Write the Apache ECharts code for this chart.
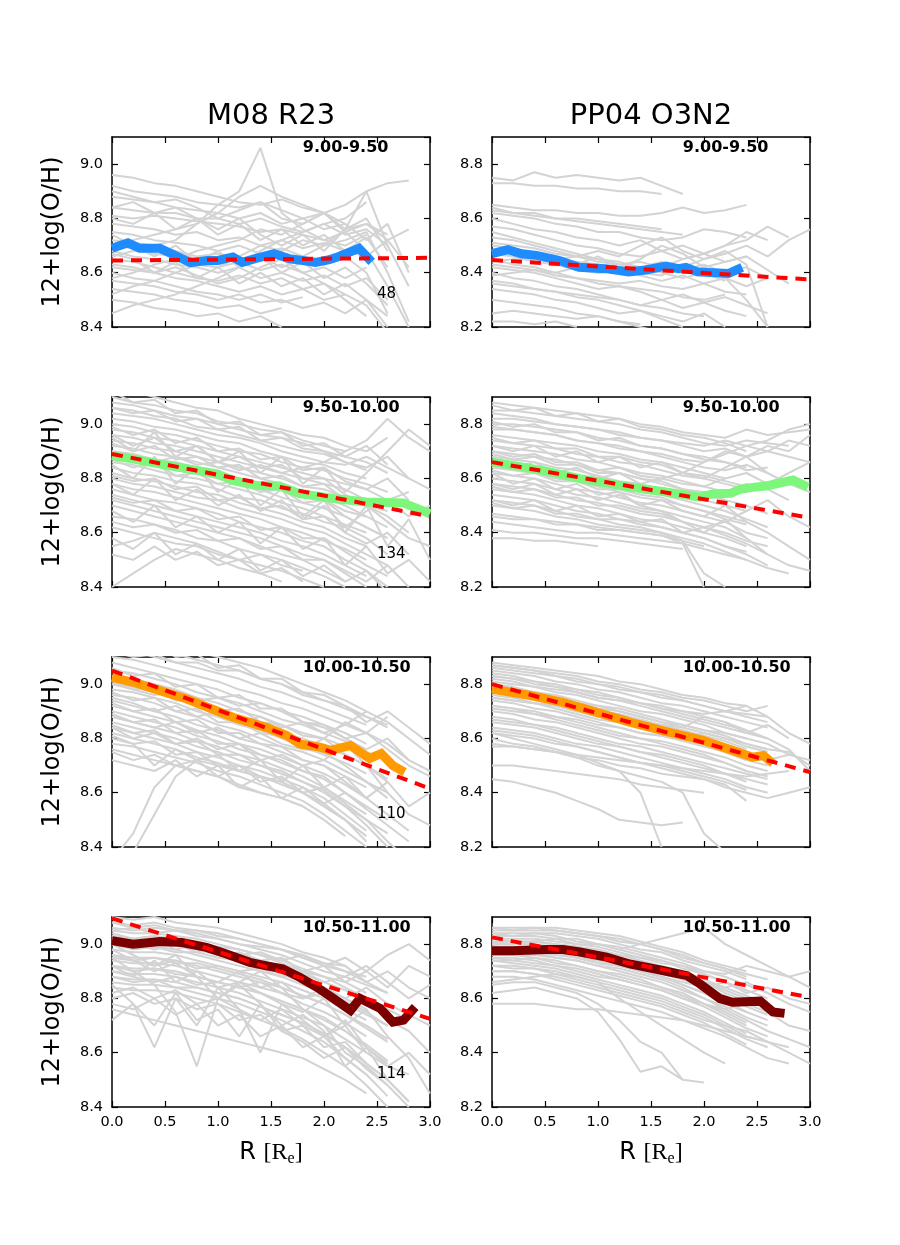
<!DOCTYPE html>
<html><head><meta charset="utf-8">
<script src="https://cdn.jsdelivr.net/npm/echarts/dist/echarts.min.js"></script>
<style>html,body{margin:0;padding:0;background:#fff}#c{width:900px;height:1245px}</style>
</head><body><div id="c"></div><script>
// ---------- data ----------
const radii = [0,0.2,0.4,0.6,0.8,1.0,1.2,1.4,1.6,1.8,2.0,2.2,2.4,2.6,2.8,3.0];
const xTicks = [0, 3, 0.5];
const yRangeM08 = [8.4, 9.1];
const yRangePP04 = [8.2, 8.9];
const columnTitles = ['M08 R23', 'PP04 O3N2'];
const massBins = ['9.00-9.50', '9.50-10.00', '10.00-10.50', '10.50-11.00'];
const galaxyCounts = ['48', '134', '110', '114'];

const grayM08_1 = [
[8.96,8.95,8.93,8.92,8.90,8.88,8.86,8.85,8.87,8.84,8.82],
[8.92,8.90,8.89,8.88,8.86,8.85,8.84,8.86,8.83,8.80,8.82,8.85,8.90,8.93,8.94],
[8.88,8.87,8.86,8.84,8.83,8.82,8.80,8.82,8.78,8.80,8.76,8.78],
[8.84,8.83,8.82,8.82,8.80,8.80,8.78,8.80,8.77,8.75,8.78,8.74,8.76,8.70],
[8.81,8.80,8.81,8.80,8.79,8.78,8.77,8.75,8.76,8.74,8.72,8.75,8.78,8.72,8.76],
[8.78,8.77,8.76,8.74,8.75,8.72,8.73,8.70,8.72,8.69,8.71,8.68,8.73,8.62],
[8.75,8.74,8.72,8.71,8.70,8.68,8.70,8.67,8.69,8.66,8.70,8.72,8.75,8.60,8.42],
[8.72,8.71,8.70,8.68,8.66,8.67,8.64,8.66,8.62,8.65,8.63,8.66,8.60,8.45],
[8.70,8.69,8.67,8.66,8.63,8.62,8.64,8.61,8.63,8.60,8.62,8.58,8.62],
[8.68,8.66,8.65,8.63,8.62,8.60,8.62,8.58,8.60,8.57,8.59,8.55,8.58,8.50],
[8.65,8.64,8.62,8.60,8.58,8.57,8.59,8.56,8.58,8.54,8.56,8.52,8.48,8.38],
[8.62,8.61,8.60,8.58,8.57,8.55,8.53,8.55,8.52,8.54,8.50,8.52],
[8.60,8.58,8.57,8.55,8.53,8.52,8.50,8.52,8.49,8.51],
[8.57,8.56,8.55,8.53,8.52,8.50,8.52,8.49,8.50,8.47,8.49,8.45,8.50,8.40],
[8.54,8.53,8.52,8.50,8.49,8.47,8.48,8.45,8.47],
[8.50,8.49,8.47,8.46,8.44,8.45,8.42,8.44,8.40],
[8.45,8.48,8.50,8.52,8.55,8.58,8.62,8.68,8.72,8.75,8.78,8.80,8.86],
[8.66,8.68,8.70,8.72,8.78,8.85,8.90,9.06,8.82,8.76,8.72,8.70,8.74],
[8.90,8.88,8.86,8.87,8.84,8.80,8.83,8.86,8.80,8.78,8.82,8.75,8.68,8.55,8.40],
[8.70,8.72,8.74,8.76,8.78,8.82,8.88,8.92,8.88,8.85,8.82,8.78,8.72,8.78,8.60],
[8.58,8.60,8.63,8.65,8.68,8.70,8.72,8.76,8.74,8.78,8.82,8.76,8.90,8.70,8.55],
[8.52,8.55,8.57,8.60,8.63,8.62,8.66,8.70,8.68,8.72,8.70,8.76,8.78,8.74],
[8.63,8.62,8.60,8.62,8.59,8.56,8.58,8.62,8.65,8.60,8.56,8.50,8.44],
[8.80,8.78,8.82,8.76,8.80,8.74,8.78,8.72,8.76,8.70,8.74,8.68,8.66,8.72,8.62],
[8.74,8.70,8.66,8.70,8.64,8.68,8.62,8.66,8.60,8.64,8.58,8.62,8.56,8.48],
[8.67,8.65,8.60,8.64,8.58,8.62,8.56,8.60,8.55,8.58,8.52,8.56,8.50,8.44],
[8.84,8.86,8.82,8.84,8.80,8.76,8.80,8.74,8.70,8.74,8.68,8.76,8.80,8.68]
];
const grayPP04_1 = [
[8.75,8.74,8.77,8.75,8.76,8.75,8.74,8.75,8.72,8.69],
[8.73,8.73,8.72,8.72,8.71,8.71,8.70,8.70,8.69],
[8.65,8.64,8.63,8.63,8.62,8.62,8.61,8.61,8.62,8.64,8.62,8.63,8.65],
[8.64,8.62,8.62,8.60,8.60,8.59,8.58,8.57,8.56],
[8.62,8.61,8.60,8.58,8.57,8.55,8.55,8.53,8.52,8.53,8.56,8.55,8.53],
[8.60,8.58,8.56,8.55,8.53,8.52,8.50,8.52,8.48,8.50,8.47,8.50,8.55,8.52],
[8.57,8.56,8.54,8.52,8.50,8.49,8.47,8.46,8.48,8.45,8.47,8.44,8.46],
[8.55,8.53,8.51,8.49,8.47,8.45,8.44,8.42,8.44,8.41,8.43,8.40,8.42,8.38],
[8.53,8.52,8.50,8.48,8.46,8.45,8.43,8.44,8.42,8.45,8.47,8.50,8.52,8.57,8.53],
[8.50,8.49,8.47,8.45,8.44,8.43,8.41,8.42,8.40,8.38,8.40,8.37],
[8.47,8.46,8.44,8.43,8.41,8.40,8.41,8.39,8.37,8.39,8.36,8.38,8.35,8.38],
[8.45,8.43,8.42,8.40,8.38,8.37,8.36,8.37,8.35,8.34,8.36,8.33,8.32],
[8.42,8.41,8.40,8.38,8.36,8.34,8.35,8.33,8.30,8.32,8.29,8.31,8.28,8.25],
[8.40,8.38,8.37,8.35,8.34,8.32,8.30,8.28,8.30,8.27,8.29,8.26,8.24],
[8.37,8.36,8.34,8.33,8.31,8.30,8.28,8.26,8.24,8.22,8.25,8.20],
[8.34,8.33,8.32,8.30,8.29,8.27,8.25,8.26,8.23,8.20],
[8.30,8.29,8.28,8.27,8.25,8.24,8.22,8.20,8.18],
[8.25,8.26,8.25,8.24,8.23,8.24,8.22,8.21],
[8.22,8.22,8.21,8.22,8.20],
[8.48,8.47,8.46,8.45,8.46,8.48,8.46,8.50,8.53,8.48,8.45,8.47,8.50,8.46,8.52,8.56],
[8.44,8.45,8.45,8.44,8.43,8.46,8.42,8.45,8.50,8.47,8.42,8.38,8.30,8.20],
[8.39,8.40,8.41,8.40,8.42,8.40,8.41,8.40,8.39,8.42,8.45,8.48,8.43,8.20],
[8.63,8.62,8.61,8.60,8.59,8.58,8.57,8.56,8.55,8.54],
[8.51,8.50,8.49,8.47,8.46,8.44,8.43,8.42,8.41,8.40,8.42,8.44,8.46,8.41,8.36],
[8.43,8.42,8.41,8.39,8.38,8.36,8.35,8.34,8.33,8.31,8.30,8.32],
[8.36,8.35,8.34,8.33,8.32,8.31,8.30,8.28,8.27,8.25,8.24]
];
const grayM08_2 = [
[9.15,9.12,9.10,9.08,9.06,9.05,9.02,9.00,8.98,8.96,8.95,8.92,8.90,8.95],
[9.10,9.08,9.07,9.05,9.04,9.01,9.00,8.98,8.97,8.94,8.92,8.90],
[9.08,9.07,9.05,9.03,9.02,9.00,8.98,8.96,8.95,8.93,8.90,8.88,8.92,8.85],
[9.06,9.05,9.03,9.02,8.99,8.98,8.96,8.94,8.92,8.90,8.89,8.86,8.83],
[9.04,9.03,9.02,9.00,8.98,8.96,8.95,8.93,8.90,8.88,8.86,8.85,8.88,8.84,8.80],
[9.02,9.01,8.99,8.98,8.96,8.94,8.93,8.90,8.88,8.86,8.85,8.82,8.80],
[9.00,8.99,8.97,8.96,8.94,8.92,8.90,8.89,8.86,8.84,8.83,8.80,8.78,8.75],
[8.98,8.97,8.95,8.94,8.92,8.90,8.88,8.86,8.84,8.82,8.80,8.78,8.76,8.72,8.75],
[8.96,8.95,8.93,8.92,8.90,8.88,8.86,8.84,8.82,8.80,8.78,8.76,8.72,8.70],
[8.94,8.93,8.91,8.90,8.88,8.86,8.84,8.82,8.80,8.77,8.76,8.73,8.70,8.68],
[8.92,8.91,8.89,8.88,8.86,8.84,8.82,8.80,8.78,8.75,8.73,8.70,8.66,8.62],
[8.90,8.89,8.87,8.86,8.84,8.82,8.80,8.78,8.76,8.74,8.72,8.68,8.66],
[8.88,8.87,8.85,8.83,8.82,8.80,8.78,8.76,8.73,8.71,8.69,8.66,8.62,8.58],
[8.86,8.85,8.83,8.81,8.80,8.78,8.76,8.74,8.71,8.69,8.66,8.63,8.60],
[8.84,8.82,8.81,8.79,8.78,8.76,8.73,8.72,8.69,8.67,8.64,8.62,8.58,8.52],
[8.82,8.80,8.79,8.77,8.75,8.74,8.71,8.69,8.67,8.64,8.62,8.58,8.55],
[8.80,8.78,8.77,8.75,8.73,8.72,8.69,8.67,8.65,8.62,8.60,8.56,8.52,8.48],
[8.78,8.76,8.75,8.73,8.71,8.69,8.67,8.65,8.62,8.60,8.57,8.54,8.50],
[8.76,8.74,8.72,8.71,8.69,8.67,8.64,8.62,8.60,8.57,8.55,8.50,8.46,8.40],
[8.74,8.72,8.70,8.68,8.66,8.64,8.62,8.60,8.57,8.55,8.52,8.48,8.44],
[8.72,8.70,8.68,8.66,8.64,8.62,8.60,8.58,8.55,8.52,8.50,8.45,8.40],
[8.70,8.68,8.66,8.64,8.62,8.60,8.58,8.55,8.52,8.50,8.46,8.42],
[8.66,8.65,8.63,8.61,8.58,8.57,8.54,8.52,8.50,8.47,8.44,8.40],
[8.62,8.60,8.58,8.56,8.55,8.52,8.50,8.48,8.46,8.43,8.40],
[8.55,8.57,8.60,8.58,8.56,8.53,8.50,8.52,8.48,8.46],
[8.40,8.45,8.50,8.54,8.52,8.50,8.47,8.45,8.42],
[8.85,8.80,8.88,8.78,8.84,8.75,8.80,8.70,8.76,8.66,8.72,8.60,8.70,8.55,8.65,8.50],
[8.95,8.90,8.97,8.88,8.92,8.86,8.90,8.82,8.88,8.78,8.84,8.75,8.82,8.90,8.98,8.92],
[8.90,8.88,8.86,8.88,8.85,8.86,8.83,8.85,8.82,8.84,8.86,8.90,8.94,9.02,8.95,8.90],
[8.78,8.74,8.80,8.72,8.76,8.70,8.74,8.68,8.72,8.65,8.70,8.62,8.68,8.72,8.66,8.70],
[8.68,8.64,8.70,8.62,8.66,8.60,8.64,8.56,8.62,8.54,8.58,8.48,8.55,8.45,8.50,8.42],
[8.58,8.54,8.60,8.52,8.56,8.50,8.54,8.46,8.50,8.44,8.48,8.42,8.46,8.38],
[9.12,9.08,9.09,9.04,9.05,9.00,9.01,8.96,8.97,8.92,8.93,8.88,8.86,8.82],
[8.99,8.96,8.98,8.93,8.95,8.90,8.91,8.87,8.88,8.83,8.84,8.79,8.76,8.80,8.72],
[8.93,8.90,8.92,8.87,8.88,8.84,8.85,8.80,8.81,8.77,8.78,8.72,8.70,8.66,8.60],
[8.87,8.84,8.86,8.81,8.82,8.78,8.79,8.75,8.76,8.71,8.72,8.66,8.62,8.58],
[8.81,8.79,8.80,8.76,8.77,8.72,8.73,8.69,8.70,8.65,8.66,8.60,8.56,8.60,8.52],
[8.73,8.71,8.72,8.68,8.69,8.65,8.66,8.61,8.62,8.58,8.58,8.53,8.48,8.44],
[8.64,8.62,8.63,8.60,8.61,8.57,8.58,8.54,8.55,8.50,8.50,8.46,8.42,8.48,8.40],
[8.52,8.50,8.55,8.50,8.53,8.48,8.50,8.45,8.47,8.42],
[9.06,9.04,9.05,9.01,9.02,8.98,8.99,8.94,8.95,8.91,8.90,8.86,8.84,8.88,8.80,8.76],
[8.96,8.92,8.95,8.90,8.92,8.86,8.88,8.84,8.85,8.80,8.80,8.74,8.70,8.64,8.58,8.55]
];
const grayPP04_2 = [
[8.88,8.87,8.86,8.85,8.84,8.83,8.82,8.80,8.79,8.77,8.76,8.75,8.78,8.76,8.77,8.78],
[8.85,8.85,8.84,8.83,8.82,8.81,8.80,8.78,8.77,8.75,8.73,8.72,8.74,8.73,8.72],
[8.82,8.82,8.81,8.80,8.79,8.78,8.76,8.75,8.74,8.72,8.70,8.71,8.68,8.70,8.74,8.72],
[8.80,8.80,8.79,8.78,8.77,8.75,8.74,8.72,8.71,8.69,8.67,8.66,8.64],
[8.78,8.78,8.77,8.76,8.74,8.73,8.71,8.70,8.68,8.66,8.64,8.63,8.65,8.62],
[8.76,8.75,8.74,8.73,8.72,8.70,8.69,8.67,8.66,8.64,8.62,8.60],
[8.74,8.73,8.72,8.71,8.69,8.68,8.66,8.65,8.63,8.61,8.60,8.58,8.56],
[8.72,8.71,8.70,8.69,8.67,8.66,8.64,8.62,8.61,8.59,8.57,8.55,8.58,8.56,8.52],
[8.70,8.69,8.68,8.67,8.65,8.63,8.62,8.60,8.58,8.56,8.54,8.52],
[8.68,8.67,8.66,8.64,8.63,8.61,8.59,8.58,8.56,8.54,8.52,8.50,8.48],
[8.66,8.65,8.64,8.62,8.61,8.59,8.57,8.55,8.54,8.52,8.50,8.48,8.45,8.42],
[8.64,8.63,8.62,8.60,8.59,8.57,8.55,8.53,8.52,8.50,8.48,8.46,8.44],
[8.62,8.61,8.60,8.58,8.56,8.55,8.53,8.51,8.50,8.48,8.46,8.44,8.40,8.38],
[8.60,8.59,8.58,8.56,8.54,8.53,8.51,8.49,8.48,8.46,8.44,8.42,8.38],
[8.58,8.57,8.56,8.54,8.52,8.51,8.49,8.47,8.46,8.44,8.42,8.40,8.37,8.35],
[8.56,8.55,8.54,8.52,8.50,8.49,8.47,8.45,8.44,8.42,8.40,8.38,8.35],
[8.54,8.53,8.52,8.50,8.48,8.47,8.45,8.44,8.42,8.40,8.38,8.35,8.32,8.28],
[8.52,8.51,8.50,8.48,8.46,8.45,8.43,8.42,8.40,8.38,8.36,8.33,8.30],
[8.50,8.49,8.48,8.46,8.45,8.43,8.42,8.41,8.40,8.37,8.25,8.20],
[8.47,8.46,8.45,8.44,8.43,8.42,8.41,8.40,8.39,8.36,8.20],
[8.44,8.43,8.42,8.41,8.40,8.40,8.39,8.38,8.37,8.36,8.34,8.32,8.30,8.27,8.25],
[8.41,8.40,8.40,8.39,8.38,8.38,8.37,8.36,8.35,8.34],
[8.38,8.38,8.37,8.37,8.36,8.35],
[8.66,8.64,8.66,8.62,8.64,8.60,8.62,8.58,8.60,8.62,8.66,8.70,8.68,8.72,8.70,8.76],
[8.72,8.70,8.72,8.68,8.70,8.66,8.68,8.64,8.66,8.62,8.60,8.64,8.68,8.62,8.58,8.55],
[8.58,8.56,8.58,8.54,8.56,8.52,8.54,8.50,8.52,8.48,8.46,8.50,8.44,8.40,8.35,8.30],
[8.62,8.58,8.60,8.56,8.58,8.54,8.55,8.50,8.48,8.44,8.40,8.45,8.38,8.32,8.28,8.26],
[8.52,8.50,8.52,8.48,8.50,8.46,8.47,8.44,8.45,8.40,8.42,8.44,8.48,8.52,8.46,8.42],
[8.84,8.83,8.82,8.80,8.79,8.78,8.77,8.75,8.74,8.73,8.72,8.74,8.72,8.70,8.68,8.66],
[8.87,8.85,8.86,8.83,8.84,8.81,8.82,8.79,8.78,8.76,8.75,8.73,8.70],
[8.81,8.79,8.80,8.77,8.77,8.74,8.75,8.72,8.71,8.69,8.68,8.66,8.63,8.64],
[8.75,8.73,8.74,8.71,8.71,8.68,8.68,8.66,8.65,8.62,8.61,8.59,8.57],
[8.69,8.67,8.68,8.65,8.65,8.62,8.62,8.60,8.59,8.56,8.55,8.52,8.50,8.47],
[8.63,8.61,8.62,8.59,8.59,8.56,8.56,8.54,8.53,8.50,8.48,8.45,8.43],
[8.57,8.55,8.56,8.53,8.53,8.50,8.50,8.48,8.47,8.44,8.42,8.39,8.36,8.32],
[8.51,8.49,8.50,8.47,8.47,8.45,8.45,8.43,8.42,8.40,8.38,8.35,8.33],
[8.46,8.45,8.45,8.43,8.43,8.41,8.41,8.40,8.39,8.37,8.35],
[8.79,8.78,8.77,8.76,8.74,8.73,8.72,8.70,8.69,8.67,8.66,8.69,8.72,8.74,8.78,8.80],
[8.70,8.68,8.69,8.66,8.66,8.63,8.64,8.61,8.60,8.58,8.57,8.60,8.62,8.58,8.62,8.66]
];
const grayM08_3 = [
[9.20,9.18,9.16,9.14,9.12,9.10,9.08,9.06,9.03,9.00,8.97,8.94,8.90],
[9.16,9.15,9.13,9.11,9.09,9.07,9.05,9.02,9.00,8.97,8.94,8.91,8.88,8.85],
[9.13,9.12,9.10,9.08,9.06,9.04,9.02,8.99,8.97,8.94,8.91,8.88,8.85],
[9.10,9.09,9.07,9.05,9.03,9.01,8.98,8.96,8.93,8.91,8.88,8.85,8.82,8.88],
[9.08,9.06,9.04,9.02,9.00,8.98,8.95,8.93,8.90,8.88,8.85,8.82,8.78],
[9.05,9.04,9.02,9.00,8.97,8.95,8.93,8.90,8.87,8.85,8.82,8.79,8.75,8.72],
[9.03,9.02,9.00,8.98,8.95,8.93,8.90,8.88,8.85,8.82,8.80,8.77,8.73],
[9.00,8.99,8.97,8.95,8.93,8.90,8.88,8.85,8.82,8.80,8.77,8.74,8.70,8.65],
[8.98,8.97,8.95,8.93,8.90,8.88,8.85,8.83,8.80,8.77,8.74,8.71,8.67],
[8.96,8.95,8.93,8.90,8.88,8.85,8.83,8.80,8.77,8.75,8.72,8.68,8.64,8.60],
[8.94,8.92,8.90,8.88,8.85,8.83,8.80,8.78,8.75,8.72,8.70,8.66,8.62],
[8.92,8.90,8.88,8.86,8.83,8.81,8.78,8.76,8.73,8.70,8.67,8.63,8.58],
[8.90,8.88,8.86,8.84,8.81,8.79,8.76,8.74,8.71,8.68,8.65,8.60,8.55,8.50],
[8.88,8.86,8.84,8.82,8.79,8.77,8.74,8.72,8.69,8.66,8.62,8.57,8.52],
[8.86,8.84,8.82,8.80,8.77,8.75,8.72,8.70,8.67,8.64,8.60,8.55,8.50,8.45],
[8.84,8.82,8.80,8.78,8.75,8.73,8.70,8.68,8.65,8.62,8.58,8.52,8.46],
[8.82,8.80,8.78,8.76,8.73,8.71,8.68,8.66,8.63,8.60,8.55,8.50,8.42],
[8.78,8.77,8.75,8.73,8.71,8.68,8.66,8.63,8.60,8.57,8.52,8.46,8.40],
[8.76,8.74,8.72,8.70,8.68,8.66,8.63,8.60,8.58,8.55,8.50,8.44],
[8.80,8.78,8.70,8.76,8.72,8.74,8.68,8.72,8.64,8.70,8.62,8.66,8.58,8.64,8.55,8.60],
[8.72,8.70,8.68,8.72,8.66,8.70,8.62,8.66,8.58,8.62,8.56,8.60,8.54,8.48,8.42],
[8.30,8.38,8.52,8.66,8.72,8.70,8.68,8.66,8.64,8.60,8.55,8.50],
[8.35,8.45,8.62,8.70,8.68,8.66,8.62,8.60,8.58,8.55],
[8.95,8.93,8.90,8.92,8.88,8.90,8.86,8.88,8.84,8.86,8.82,8.85,8.90,8.86,8.80,8.74],
[8.88,8.86,8.84,8.86,8.82,8.84,8.80,8.82,8.78,8.76,8.80,8.86,8.82,8.78,8.72,8.68],
[8.84,8.80,8.82,8.78,8.80,8.76,8.78,8.72,8.74,8.70,8.72,8.78,8.70,8.60,8.52,8.48],
[8.75,8.72,8.74,8.70,8.72,8.66,8.70,8.64,8.66,8.60,8.62,8.56,8.50,8.42,8.35],
[9.00,8.98,8.96,8.97,8.94,8.95,8.92,8.93,8.90,8.86,8.84,8.80,8.82,8.76,8.70,8.66],
[9.18,9.14,9.15,9.10,9.11,9.06,9.07,9.02,9.02,8.97,8.96,8.92,8.88,8.84],
[9.06,9.03,9.04,8.99,9.00,8.95,8.96,8.91,8.91,8.86,8.85,8.80,8.76,8.80,8.72],
[9.01,8.98,8.99,8.94,8.95,8.90,8.91,8.86,8.85,8.81,8.80,8.74,8.70,8.64],
[8.97,8.94,8.95,8.90,8.91,8.86,8.86,8.82,8.81,8.76,8.75,8.70,8.64,8.58],
[8.93,8.90,8.91,8.86,8.87,8.82,8.82,8.78,8.77,8.72,8.70,8.64,8.58,8.52,8.46],
[8.89,8.86,8.87,8.82,8.83,8.78,8.78,8.74,8.72,8.68,8.66,8.60,8.54],
[8.85,8.82,8.83,8.78,8.79,8.74,8.74,8.70,8.68,8.64,8.61,8.55,8.48,8.40],
[8.81,8.78,8.79,8.74,8.75,8.70,8.70,8.66,8.64,8.60,8.56,8.50,8.44],
[9.12,9.10,9.11,9.08,9.08,9.05,9.05,9.02,9.00,8.96,8.94,8.92,8.86,8.90,8.84,8.78]
];
const grayPP04_3 = [
[8.88,8.87,8.86,8.85,8.84,8.83,8.81,8.80,8.78,8.76,8.75,8.73,8.72],
[8.87,8.86,8.85,8.84,8.83,8.81,8.80,8.78,8.77,8.75,8.74,8.72,8.70,8.72],
[8.86,8.85,8.84,8.83,8.81,8.80,8.78,8.77,8.75,8.74,8.72,8.70,8.68,8.66],
[8.85,8.84,8.83,8.81,8.80,8.78,8.77,8.75,8.73,8.72,8.70,8.68,8.66,8.64],
[8.84,8.83,8.81,8.80,8.78,8.77,8.75,8.73,8.72,8.70,8.68,8.66,8.63],
[8.83,8.82,8.80,8.79,8.77,8.75,8.74,8.72,8.70,8.68,8.66,8.64,8.62,8.65,8.60],
[8.82,8.81,8.79,8.77,8.76,8.74,8.72,8.70,8.69,8.67,8.65,8.62,8.60],
[8.80,8.79,8.77,8.76,8.74,8.72,8.71,8.69,8.67,8.65,8.63,8.61,8.58,8.56],
[8.78,8.77,8.75,8.74,8.72,8.70,8.69,8.67,8.65,8.63,8.61,8.59,8.56],
[8.76,8.75,8.73,8.72,8.70,8.68,8.67,8.65,8.63,8.61,8.59,8.57,8.54,8.52,8.54],
[8.74,8.73,8.71,8.70,8.68,8.66,8.64,8.62,8.61,8.59,8.57,8.55,8.52],
[8.72,8.71,8.69,8.68,8.66,8.64,8.62,8.60,8.59,8.57,8.55,8.53,8.50,8.48],
[8.70,8.69,8.67,8.66,8.64,8.62,8.60,8.58,8.57,8.55,8.53,8.51,8.48],
[8.68,8.67,8.65,8.64,8.62,8.60,8.58,8.57,8.55,8.53,8.51,8.49,8.47,8.45],
[8.66,8.65,8.64,8.62,8.60,8.58,8.57,8.55,8.53,8.51,8.49,8.47,8.44],
[8.64,8.63,8.62,8.60,8.58,8.57,8.55,8.53,8.51,8.49,8.47,8.45,8.42,8.40],
[8.62,8.61,8.60,8.58,8.57,8.55,8.53,8.51,8.49,8.47,8.45,8.43,8.37],
[8.57,8.57,8.56,8.55,8.54,8.53,8.52,8.51,8.50,8.49,8.48,8.47,8.46,8.47,8.48],
[8.50,8.50,8.49,8.48,8.47,8.46,8.45,8.43,8.42,8.41,8.40],
[8.45,8.44,8.42,8.40,8.37,8.34,8.30,8.29,8.28,8.29],
[8.62,8.60,8.58,8.56,8.54,8.51,8.48,8.40,8.20],
[8.60,8.58,8.57,8.55,8.53,8.50,8.48,8.46,8.44,8.40,8.25,8.18],
[8.78,8.77,8.76,8.74,8.73,8.71,8.70,8.68,8.66,8.65,8.63,8.62,8.60,8.58,8.54,8.52],
[8.72,8.71,8.70,8.68,8.67,8.65,8.64,8.62,8.61,8.60,8.62,8.60,8.58,8.56,8.55,8.50],
[8.75,8.74,8.73,8.72,8.70,8.69,8.68,8.66,8.65,8.64,8.68,8.66,8.62,8.60,8.56,8.48],
[8.58,8.57,8.56,8.55,8.53,8.52,8.50,8.49,8.47,8.46,8.45,8.42,8.40,8.38,8.40,8.42],
[8.87,8.86,8.85,8.83,8.82,8.80,8.79,8.77,8.76,8.74,8.72,8.70,8.69,8.68],
[8.83,8.82,8.81,8.79,8.78,8.76,8.75,8.73,8.71,8.69,8.67,8.65,8.63,8.60],
[8.79,8.78,8.77,8.75,8.73,8.72,8.70,8.68,8.66,8.64,8.62,8.60,8.57,8.55],
[8.75,8.74,8.73,8.71,8.69,8.67,8.66,8.64,8.62,8.60,8.58,8.55,8.52,8.50],
[8.71,8.70,8.69,8.67,8.65,8.63,8.61,8.60,8.58,8.56,8.54,8.51,8.48,8.46],
[8.67,8.66,8.65,8.63,8.61,8.59,8.57,8.55,8.54,8.52,8.50,8.47,8.45,8.43],
[8.63,8.62,8.61,8.59,8.57,8.55,8.53,8.51,8.50,8.48,8.46,8.44,8.41],
[8.81,8.80,8.79,8.78,8.77,8.75,8.74,8.73,8.71,8.70,8.69,8.70,8.72,8.68,8.62,8.58]
];
const grayM08_4 = [
[9.10,9.09,9.10,9.08,9.07,9.06,9.04,9.02,9.00,8.97,8.95,8.92],
[9.08,9.07,9.08,9.06,9.05,9.04,9.02,9.00,8.98,8.95,8.92,8.90,8.88],
[9.06,9.05,9.06,9.05,9.04,9.02,9.00,8.98,8.96,8.93,8.90,8.88,8.85,8.82],
[9.05,9.04,9.04,9.03,9.02,9.00,8.98,8.96,8.94,8.91,8.88,8.86,8.82],
[9.03,9.02,9.03,9.02,9.00,8.98,8.96,8.94,8.92,8.89,8.86,8.83,8.80,8.76],
[9.01,9.00,9.01,9.00,8.98,8.96,8.94,8.92,8.90,8.87,8.84,8.80,8.76],
[9.00,8.99,8.99,8.98,8.96,8.94,8.92,8.90,8.88,8.85,8.82,8.78,8.74,8.70],
[8.98,8.97,8.97,8.96,8.94,8.92,8.90,8.88,8.86,8.83,8.80,8.76,8.72],
[8.96,8.95,8.95,8.94,8.92,8.90,8.88,8.86,8.84,8.81,8.78,8.74,8.70,8.65],
[8.94,8.93,8.93,8.92,8.90,8.88,8.86,8.84,8.82,8.78,8.75,8.71,8.66],
[8.92,8.91,8.91,8.90,8.88,8.86,8.84,8.82,8.79,8.76,8.72,8.68,8.62,8.56],
[8.90,8.89,8.89,8.88,8.86,8.84,8.82,8.79,8.76,8.73,8.70,8.65,8.60],
[8.88,8.87,8.87,8.86,8.84,8.82,8.80,8.77,8.74,8.71,8.67,8.62,8.56,8.50],
[8.86,8.85,8.85,8.84,8.82,8.80,8.78,8.75,8.72,8.68,8.64,8.58,8.52],
[8.84,8.83,8.83,8.82,8.80,8.78,8.75,8.72,8.69,8.65,8.60,8.55,8.48,8.40],
[8.80,8.82,8.78,8.80,8.76,8.78,8.72,8.74,8.68,8.70,8.62,8.64,8.56,8.50,8.42],
[8.78,8.76,8.80,8.74,8.78,8.70,8.74,8.66,8.70,8.62,8.66,8.58,8.52,8.44],
[8.72,8.78,8.70,8.82,8.72,8.76,8.66,8.78,8.68,8.64,8.58,8.62,8.54,8.48],
[8.85,8.78,8.62,8.80,8.70,8.84,8.76,8.60,8.78,8.72,8.66,8.70,8.60,8.55,8.52],
[8.95,8.90,8.85,8.75,8.55,8.80,8.85,8.78,8.70,8.74,8.68,8.55,8.62,8.50,8.42],
[9.00,8.96,8.92,8.96,8.88,8.80,8.86,8.90,8.84,8.76,8.70,8.60,8.55,8.48,8.40],
[9.02,9.00,8.98,9.00,8.97,8.98,8.96,8.97,8.94,8.96,8.92,8.95,8.90,8.96,9.00,8.94],
[8.95,8.94,8.92,8.94,8.91,8.92,8.90,8.91,8.88,8.90,8.86,8.88,8.92,8.86,8.80,8.85],
[8.90,8.88,8.86,8.88,8.85,8.86,8.84,8.86,8.82,8.80,8.84,8.80,8.84,8.78,8.74,8.70],
[8.82,8.84,8.80,8.83,8.78,8.80,8.76,8.72,8.76,8.70,8.66,8.72,8.62,8.55,8.60,8.52],
[8.92,8.88,8.94,8.86,8.90,8.84,8.86,8.82,8.78,8.75,8.80,8.70,8.76,8.66,8.58,8.45],
[9.05,9.06,9.04,9.05,9.03,9.02,9.00,8.99,8.98,8.96,8.93,8.92,8.86,8.90,8.84,8.80],
[8.76,8.74,8.72,8.70,8.68,8.66,8.64,8.62,8.60,8.58,8.54,8.50,8.45],
[9.08,9.06,9.07,9.05,9.05,9.03,9.02,9.00,8.98,8.95,8.93,8.90,8.86,8.82],
[9.04,9.02,9.03,9.01,9.01,8.99,8.98,8.96,8.93,8.90,8.88,8.84,8.80,8.76,8.72],
[9.00,8.98,8.99,8.97,8.97,8.95,8.94,8.92,8.89,8.86,8.83,8.79,8.75,8.70],
[8.96,8.94,8.95,8.93,8.93,8.91,8.89,8.87,8.84,8.81,8.78,8.74,8.69,8.64],
[8.92,8.90,8.91,8.89,8.88,8.86,8.84,8.82,8.79,8.76,8.73,8.68,8.63,8.57],
[8.88,8.86,8.87,8.84,8.84,8.82,8.80,8.77,8.74,8.71,8.67,8.62,8.56],
[8.98,8.94,8.90,8.93,8.88,8.86,8.90,8.84,8.86,8.80,8.82,8.76,8.80,8.72,8.68,8.60],
[9.03,9.00,9.02,8.98,9.00,8.96,8.97,8.94,8.95,8.90,8.92,8.86,8.90,8.84,8.92,8.88]
];
const grayPP04_4 = [
[8.86,8.86,8.86,8.86,8.85,8.84,8.83,8.81,8.79,8.77,8.74,8.72,8.70],
[8.85,8.85,8.85,8.85,8.84,8.83,8.82,8.80,8.78,8.76,8.73,8.71,8.69,8.67],
[8.84,8.84,8.84,8.84,8.83,8.82,8.80,8.78,8.77,8.74,8.72,8.70,8.67],
[8.83,8.83,8.83,8.82,8.82,8.80,8.79,8.77,8.75,8.73,8.70,8.68,8.65,8.62],
[8.82,8.82,8.82,8.81,8.80,8.79,8.77,8.75,8.74,8.71,8.69,8.66,8.63],
[8.81,8.81,8.81,8.80,8.79,8.77,8.76,8.74,8.72,8.70,8.67,8.64,8.61,8.58],
[8.80,8.80,8.80,8.79,8.78,8.76,8.74,8.73,8.71,8.68,8.66,8.62,8.59],
[8.79,8.79,8.79,8.78,8.76,8.75,8.73,8.71,8.69,8.67,8.64,8.61,8.57,8.54],
[8.78,8.78,8.78,8.77,8.75,8.73,8.72,8.70,8.68,8.65,8.62,8.59,8.55],
[8.77,8.77,8.77,8.75,8.74,8.72,8.70,8.68,8.66,8.63,8.60,8.57,8.53,8.50],
[8.76,8.76,8.75,8.74,8.72,8.70,8.69,8.67,8.64,8.62,8.58,8.55,8.51],
[8.75,8.75,8.74,8.72,8.71,8.69,8.67,8.65,8.63,8.60,8.57,8.53,8.49,8.46],
[8.74,8.73,8.72,8.71,8.69,8.67,8.65,8.63,8.61,8.58,8.55,8.51,8.47],
[8.72,8.72,8.71,8.69,8.67,8.65,8.63,8.61,8.59,8.56,8.53,8.49,8.45,8.42],
[8.70,8.70,8.69,8.67,8.65,8.63,8.61,8.59,8.57,8.54,8.51,8.47,8.43],
[8.68,8.68,8.67,8.65,8.63,8.61,8.59,8.57,8.55,8.52,8.49,8.46,8.42,8.38,8.36],
[8.66,8.67,8.68,8.69,8.68,8.66,8.60,8.55,8.50,8.45,8.40,8.36],
[8.58,8.58,8.58,8.57,8.56,8.56,8.55,8.54,8.53,8.52,8.50,8.48,8.46,8.44,8.42],
[8.62,8.63,8.64,8.62,8.60,8.55,8.45,8.33,8.35,8.30,8.29],
[8.65,8.66,8.66,8.64,8.62,8.58,8.52,8.44,8.40,8.30],
[8.82,8.81,8.81,8.80,8.79,8.78,8.76,8.75,8.73,8.72,8.70,8.69,8.72,8.70,8.68,8.70],
[8.78,8.77,8.77,8.76,8.75,8.73,8.72,8.70,8.68,8.66,8.64,8.66,8.62,8.64,8.60,8.58],
[8.74,8.74,8.73,8.72,8.70,8.68,8.67,8.65,8.63,8.60,8.58,8.56,8.58,8.55,8.50,8.48],
[8.70,8.70,8.69,8.68,8.66,8.64,8.62,8.60,8.58,8.55,8.52,8.50,8.48,8.44,8.40,8.36],
[8.76,8.76,8.76,8.75,8.74,8.72,8.71,8.69,8.67,8.64,8.60,8.56,8.52,8.48,8.45,8.42],
[8.80,8.80,8.81,8.82,8.80,8.80,8.78,8.80,8.82,8.84,8.86,8.80,8.76,8.72,8.68,8.64],
[8.86,8.85,8.86,8.85,8.84,8.83,8.81,8.80,8.78,8.75,8.73,8.71,8.68],
[8.84,8.83,8.84,8.83,8.81,8.80,8.78,8.76,8.74,8.72,8.69,8.66,8.63,8.60],
[8.81,8.80,8.81,8.80,8.78,8.77,8.75,8.73,8.71,8.69,8.66,8.63,8.60],
[8.78,8.77,8.78,8.77,8.75,8.74,8.72,8.70,8.68,8.65,8.62,8.58,8.55,8.52],
[8.75,8.74,8.75,8.73,8.72,8.70,8.68,8.66,8.64,8.61,8.58,8.54,8.50],
[8.72,8.71,8.71,8.70,8.68,8.66,8.64,8.62,8.60,8.57,8.54,8.50,8.46,8.44],
[8.79,8.78,8.78,8.77,8.76,8.74,8.73,8.71,8.70,8.68,8.66,8.64,8.66,8.62,8.58,8.55]
];

// median profiles [R, value]
const meanM08_1 = [[0,8.69],[0.15,8.71],[0.26,8.69],[0.45,8.69],[0.74,8.637],[0.9,8.645],[1.0,8.645],[1.14,8.658],[1.23,8.638],[1.35,8.652],[1.53,8.67],[1.67,8.652],[1.8,8.645],[1.92,8.638],[2.05,8.648],[2.14,8.66],[2.33,8.69],[2.45,8.64]];
const meanPP04_1 = [[0,8.47],[0.15,8.485],[0.28,8.47],[0.42,8.464],[0.63,8.446],[0.82,8.42],[1.07,8.415],[1.29,8.403],[1.45,8.41],[1.64,8.424],[1.76,8.415],[1.83,8.42],[1.94,8.403],[2.23,8.397],[2.36,8.42]];
const meanM08_2 = [[0,8.884],[0.19,8.872],[0.52,8.848],[0.99,8.817],[1.14,8.793],[1.36,8.774],[1.58,8.772],[1.77,8.744],[2.09,8.726],[2.4,8.713],[2.75,8.71],[3.0,8.67]];
const meanPP04_2 = [[0,8.66],[0.2,8.648],[0.52,8.626],[0.83,8.599],[1.3,8.568],[1.61,8.552],[1.96,8.531],[2.08,8.543],[2.25,8.545],[2.34,8.56],[2.46,8.567],[2.6,8.573],[2.84,8.594],[2.98,8.568]];
const meanM08_3 = [[0,9.025],[0.2,9.007],[0.55,8.964],[0.7,8.946],[1.14,8.878],[1.46,8.84],[1.65,8.811],[1.77,8.78],[1.96,8.768],[2.06,8.756],[2.25,8.774],[2.43,8.726],[2.54,8.744],[2.65,8.70],[2.76,8.676]];
const meanPP04_3 = [[0,8.782],[0.36,8.758],[0.67,8.733],[0.99,8.696],[1.3,8.66],[1.61,8.629],[1.99,8.593],[2.27,8.556],[2.46,8.531],[2.56,8.537],[2.65,8.508]];
const meanM08_4 = [[0,9.013],[0.2,9.0],[0.45,9.01],[0.66,9.006],[0.89,8.988],[1.08,8.964],[1.3,8.933],[1.46,8.92],[1.61,8.909],[1.77,8.878],[1.93,8.842],[2.09,8.8],[2.25,8.756],[2.34,8.8],[2.53,8.763],[2.65,8.713],[2.75,8.72],[2.86,8.768]];
const meanPP04_4 = [[0,8.776],[0.2,8.776],[0.52,8.78],[0.67,8.78],[0.83,8.771],[1.08,8.752],[1.3,8.727],[1.61,8.703],[1.84,8.684],[1.96,8.654],[2.15,8.599],[2.27,8.586],[2.53,8.59],[2.65,8.55],[2.76,8.545]];

// linear fits: value at R=0 and R=3
const fitRadii = [0, 3];
const fitM08_1 = [8.645, 8.655];
const fitPP04_1 = [8.447, 8.375];
const fitM08_2 = [8.89, 8.66];
const fitPP04_2 = [8.66, 8.455];
const fitM08_3 = [9.05, 8.615];
const fitPP04_3 = [8.80, 8.476];
const fitM08_4 = [9.095, 8.725];
const fitPP04_4 = [8.825, 8.604];

const binColors = ['#1e8cff', '#7cf77c', '#ff9a00', '#7a0000'];

// ---------- layout ----------
const FONT = 'DejaVu Sans';
const colLeft = [112, 492];
const rowTop = [137, 397, 657, 917];
const PW = 318, PH = 190;

const panels = [
  {row:0,col:0,yr:yRangeM08,gray:grayM08_1,mean:meanM08_1,fit:fitM08_1},
  {row:0,col:1,yr:yRangePP04,gray:grayPP04_1,mean:meanPP04_1,fit:fitPP04_1},
  {row:1,col:0,yr:yRangeM08,gray:grayM08_2,mean:meanM08_2,fit:fitM08_2},
  {row:1,col:1,yr:yRangePP04,gray:grayPP04_2,mean:meanPP04_2,fit:fitPP04_2},
  {row:2,col:0,yr:yRangeM08,gray:grayM08_3,mean:meanM08_3,fit:fitM08_3},
  {row:2,col:1,yr:yRangePP04,gray:grayPP04_3,mean:meanPP04_3,fit:fitPP04_3},
  {row:3,col:0,yr:yRangeM08,gray:grayM08_4,mean:meanM08_4,fit:fitM08_4},
  {row:3,col:1,yr:yRangePP04,gray:grayPP04_4,mean:meanPP04_4,fit:fitPP04_4}
];

const grids = [], xAxes = [], yAxes = [], series = [];
const axLine = {show:true, onZero:false, lineStyle:{color:'#000', width:1.5}};
const tick = {show:true, inside:true, length:6, lineStyle:{color:'#000', width:1.2}};

panels.forEach((p, i) => {
  grids.push({left: colLeft[p.col], top: rowTop[p.row], width: PW, height: PH});
  const bottom = p.row === 3;
  const xBase = {gridIndex:i, type:'value', min:xTicks[0], max:xTicks[1], interval:xTicks[2],
    splitLine:{show:false}, axisLine:axLine, axisTick:tick};
  xAxes.push(Object.assign({}, xBase, {position:'bottom',
    axisLabel:{show:bottom, margin:8, fontSize:14.5, fontFamily:FONT, color:'#000', formatter:v=>v.toFixed(1)},
    name: bottom ? '{a|R }{b|[R}{c|e}{b|]}' : '', nameLocation:'middle', nameGap:32,
    nameTextStyle:{rich:{
      a:{fontSize:24, fontFamily:FONT, color:'#000', lineHeight:28},
      b:{fontSize:24, fontFamily:'Liberation Serif', color:'#000', lineHeight:28},
      c:{fontSize:16, fontFamily:'Liberation Serif', color:'#000', lineHeight:16, verticalAlign:'bottom'}
    }}}));
  xAxes.push(Object.assign({}, xBase, {position:'top', axisLabel:{show:false}}));
  const yBase = {gridIndex:i, type:'value', min:p.yr[0], max:p.yr[1], interval:0.2,
    splitLine:{show:false}, axisLine:axLine, axisTick:tick};
  yAxes.push(Object.assign({}, yBase, {position:'left',
    axisLabel:{show:true, showMaxLabel:false, margin:9, fontSize:14.5, fontFamily:FONT, color:'#000', formatter:v=>v.toFixed(1)},
    name: p.col === 0 ? '12+log(O/H)' : '', nameLocation:'middle', nameGap:47,
    nameTextStyle:{fontSize:24, fontFamily:FONT, color:'#000'}}));
  yAxes.push(Object.assign({}, yBase, {position:'right', axisLabel:{show:false}}));

  const xi = 2*i, yi = 2*i;
  p.gray.forEach(vals => {
    series.push({type:'line', xAxisIndex:xi, yAxisIndex:yi, silent:true, symbol:'none', z:1,
      lineStyle:{color:'#d3d3d3', width:2},
      data: vals.map((v, k) => [radii[k], v])});
  });
  series.push({type:'line', xAxisIndex:xi, yAxisIndex:yi, silent:true, symbol:'none', z:3,
    lineStyle:{color:binColors[p.row], width:9, join:'miter'},
    data: p.mean});
  series.push({type:'line', xAxisIndex:xi, yAxisIndex:yi, silent:true, symbol:'none', z:4,
    lineStyle:{color:'#ff0000', width:4, type:[11,8]},
    data: fitRadii.map((r, k) => [r, p.fit[k]])});
  // annotations (anchored in data coordinates)
  const ann = [{value:[1.8, p.yr[1]-0.04], t:massBins[p.row], bold:true}];
  if (p.col === 0) ann.push({value:[2.5, p.yr[0]+0.12], t:galaxyCounts[p.row], bold:false});
  series.push({type:'scatter', xAxisIndex:xi, yAxisIndex:yi, silent:true, symbolSize:0, z:5,
    itemStyle:{color:'#000'},
    label:{show:true, position:'right', distance:0, color:'#000', opacity:1},
    data: ann.map(a => ({value:a.value, label:{show:true, position:'right', distance:0,
      formatter:a.t, fontFamily:FONT, fontSize:a.bold?16:15, fontWeight:a.bold?'bold':'normal', color:'#000'}}))});
});

const chart = echarts.init(document.getElementById('c'), null, {renderer:'canvas'});
chart.setOption({
  backgroundColor:'#fff',
  animation:false,
  grid: grids, xAxis: xAxes, yAxis: yAxes, series: series,
  graphic: columnTitles.map((t, c) => ({type:'text', x: colLeft[c] + PW/2, y: 116,
    style:{text:t, fontSize:29, fontFamily:FONT, fill:'#000', align:'center', verticalAlign:'middle'}}))
});
</script></body></html>
